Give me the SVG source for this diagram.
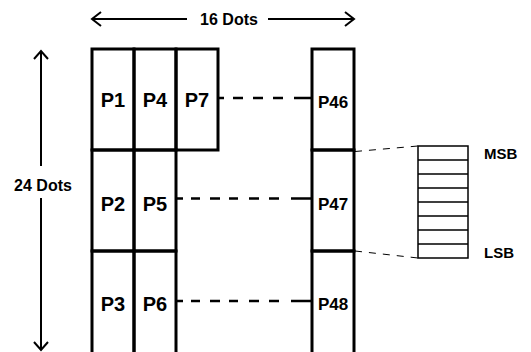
<svg xmlns="http://www.w3.org/2000/svg" width="531" height="352" viewBox="0 0 531 352">
<style>
.box{fill:none;stroke:#000;stroke-width:3}
.reg{fill:none;stroke:#000;stroke-width:1.5}
.t{font-family:"Liberation Sans",Arial,sans-serif;font-weight:bold;fill:#000;text-anchor:middle}
.big{font-size:20px}
.mid{font-size:17px}
.lbl{font-size:16px}
.side{font-size:15px;text-anchor:start}
.dash{fill:none;stroke:#000;stroke-width:2.5}
.thin{fill:none;stroke:#000;stroke-width:1;stroke-dasharray:7 7}
.ln{fill:none;stroke:#000;stroke-width:2}
</style>
<rect width="531" height="352" fill="#fff"/>
<g id="P1"><rect class="box" x="92" y="49" width="42" height="101"/><text class="t big" x="113" y="107">P1</text></g>
<g id="P4"><rect class="box" x="134" y="49" width="42" height="101"/><text class="t big" x="155" y="107">P4</text></g>
<g id="P7"><rect class="box" x="176" y="49" width="42" height="101"/><text class="t big" x="197" y="107">P7</text></g>
<g id="P2"><rect class="box" x="92" y="150" width="42" height="101"/><text class="t big" x="113" y="211">P2</text></g>
<g id="P5"><rect class="box" x="134" y="150" width="42" height="101"/><text class="t big" x="155" y="211">P5</text></g>
<g id="P3"><rect class="box" x="92" y="251" width="42" height="104"/><text class="t big" x="113" y="311">P3</text></g>
<g id="P6"><rect class="box" x="134" y="251" width="42" height="104"/><text class="t big" x="155" y="311">P6</text></g>
<g id="P46"><rect class="box" x="312" y="49" width="42" height="101"/><text class="t mid" x="333" y="108">P46</text></g>
<g id="P47"><rect class="box" x="312" y="150" width="42" height="101"/><text class="t mid" x="333" y="210">P47</text></g>
<g id="P48"><rect class="box" x="312" y="251" width="42" height="104"/><text class="t mid" x="333" y="310">P48</text></g>
<g id="register">
<rect class="reg" x="418" y="146" width="50" height="112"/>
<path class="reg" d="M418 160H468M418 174H468M418 188H468M418 202H468M418 216H468M418 230H468M418 244H468"/>
</g>
<g id="MSB"><text class="t side" x="484" y="159">MSB</text></g>
<g id="LSB"><text class="t side" x="484" y="258">LSB</text></g>
<g id="width-label"><text class="t lbl" x="229" y="25">16 Dots</text></g>
<g id="height-label"><text class="t lbl" x="43" y="191">24 Dots</text></g>
<g id="connectors">
<path class="dash" d="M218 98h6M233 98h10M253 98h10M273 98h10M294 98h18"/>
<path class="dash" d="M176 198.5h7M191 198.5h9M210 198.5h10M229 198.5h9M249 198.5h10M269 198.5h10M291 198.5h21"/>
<path class="dash" d="M176 301h7M191 301h9M210 301h10M229 301h9M249 301h10M269 301h10M291 301h21"/>
<path class="thin" d="M355 151.5L418 146"/>
<path class="thin" d="M355 251L418 258"/>
<path class="ln" d="M92 19H187M268 19H354"/>
<path class="ln" d="M101 12L92 19L101 26M345 12L354 19L345 26"/>
<path class="ln" d="M41 51V166M41 198V350"/>
<path class="ln" d="M34 59L41 51L48 59M34 342L41 350L48 342"/>
</g>
</svg>
